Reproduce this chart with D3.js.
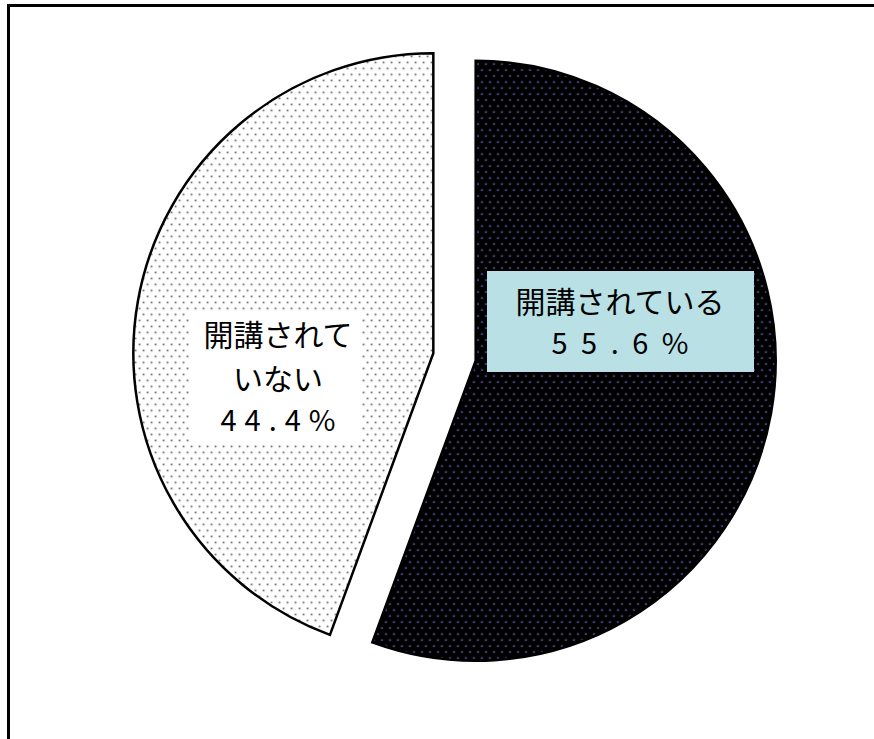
<!DOCTYPE html>
<html>
<head>
<meta charset="utf-8">
<script src="https://cdn.jsdelivr.net/npm/d3@7"></script>
<style>
  body { margin: 0; background: #fff; }
  svg { display: block; }
</style>
</head>
<body>
<svg id="chart" width="874" height="739"></svg>
<script>
// chart data
var categories = ['開講されている', '開講されていない'];
var values = [55.6, 44.4];
var labelLines = [['開講されている', '55.6%'], ['開講されて', 'いない', '44.4%']];

var width = 874, height = 739,
  cx = 454.5, cy = 357,
  radius = 300,
  explode = 21.5;

var svg = d3.select('#chart');
var defs = svg.append('defs');

// dotted fills, one for each slice
function dotPattern(id, bg, dot) {
  var p = defs.append('pattern')
    .attr('id', id)
    .attr('patternUnits', 'userSpaceOnUse')
    .attr('width', 8).attr('height', 12);
  p.append('rect').attr('width', 8).attr('height', 12).attr('fill', bg);
  p.append('rect').attr('x', 1.5).attr('y', 2.5).attr('width', 1.6).attr('height', 1.6).attr('fill', dot);
  p.append('rect').attr('x', 5.5).attr('y', 8.5).attr('width', 1.6).attr('height', 1.6).attr('fill', dot);
}
dotPattern('dotsDark', '#000', '#7470dc');
dotPattern('dotsLight', '#fff', '#4a4a4a');

// frame (runs off the right and bottom edges)
svg.append('rect')
  .attr('x', 8.5).attr('y', 5.5)
  .attr('width', 1000).attr('height', 1000)
  .attr('fill', 'none')
  .attr('stroke', '#000')
  .attr('stroke-width', 3);

var pie = d3.pie().sort(null).value(function(d) { return d; });
var arc = d3.arc().innerRadius(0).outerRadius(radius);
var arcs = pie(values);
var fills = ['url(#dotsDark)', 'url(#dotsLight)'];

svg.selectAll('path.slice')
  .data(arcs)
  .enter()
  .append('path')
  .attr('class', 'slice')
  .attr('transform', function(d) {
    var a = (d.startAngle + d.endAngle) / 2;
    return 'translate(' + (cx + Math.sin(a) * explode) + ',' + (cy - Math.cos(a) * explode) + ')';
  })
  .attr('d', arc)
  .attr('fill', function(d, i) { return fills[i]; })
  .attr('stroke', '#000')
  .attr('stroke-width', 2.5)
  .attr('stroke-linejoin', 'miter');

// data labels (boxes placed by hand as in the original)
var labels = [
  { box: [487, 271, 267, 101], bg: '#b9e0e4', x: 620, ys: [302, 344], numLen: 137 },
  { box: [190, 312, 172, 130], bg: '#fff', x: 278, ys: [335, 379, 421], numLen: 115 }
];

labels.forEach(function(l, i) {
  svg.append('rect')
    .attr('x', l.box[0]).attr('y', l.box[1])
    .attr('width', l.box[2]).attr('height', l.box[3])
    .attr('fill', l.bg);
  labelLines[i].forEach(function(t, j) {
    var isNum = t.indexOf('%') >= 0;
    var txt = svg.append('text')
      .attr('x', l.x)
      .attr('y', l.ys[j])
      .attr('dy', '0.36em')
      .attr('text-anchor', 'middle')
      .style('font-family', '"Noto Sans CJK JP", sans-serif')
      .style('font-size', isNum ? '29px' : '30px')
      .style('fill', '#000')
      .text(t);
    if (isNum) txt.attr('textLength', l.numLen).attr('lengthAdjust', 'spacing');
  });
});
</script>
</body>
</html>
